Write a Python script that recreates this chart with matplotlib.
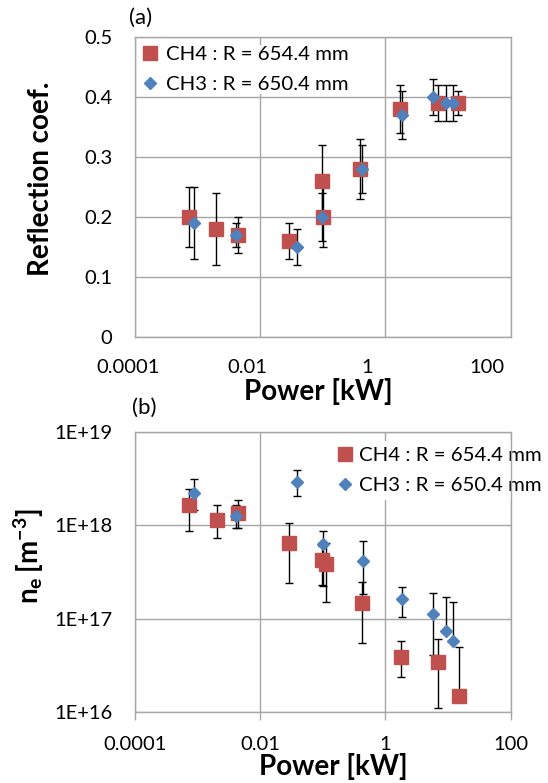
import numpy as np
import matplotlib
matplotlib.use("Agg")
import matplotlib.pyplot as plt
from matplotlib.transforms import ScaledTranslation

plt.rcParams['font.family'] = ['Lato', 'DejaVu Sans']
plt.rcParams['mathtext.fontset'] = 'custom'
plt.rcParams['mathtext.rm'] = 'Lato'
plt.rcParams['mathtext.bf'] = 'Lato:bold'

# ---------------- data ----------------
label_ch4 = "CH4 : R = 654.4 mm"
label_ch3 = "CH3 : R = 650.4 mm"

# (a) reflection coefficient
pow_ch4_a = [7.4e-4, 2.0e-3, 4.4e-3, 0.0286, 0.0975, 0.0995, 0.40, 1.71, 6.9, 14.6]
refl_ch4 = [0.20, 0.18, 0.17, 0.16, 0.26, 0.20, 0.28, 0.38, 0.39, 0.39]
refl_ch4_err = [0.05, 0.06, 0.03, 0.03, 0.06, 0.05, 0.05, 0.04, 0.03, 0.02]

pow_ch3_a = [8.95e-4, 4.19e-3, 0.0385, 0.0985, 0.425, 1.87, 5.83, 9.18, 11.9]
refl_ch3 = [0.19, 0.17, 0.15, 0.20, 0.28, 0.37, 0.40, 0.39, 0.39]
refl_ch3_err = [0.06, 0.02, 0.03, 0.04, 0.04, 0.04, 0.03, 0.03, 0.03]

# (b) electron density
pow_ch4_b = [7.4e-4, 2.08e-3, 4.51e-3, 0.0294, 0.096, 0.113, 0.419, 1.78, 7.0, 15.0]
ne_ch4 = [1.65e18, 1.14e18, 1.37e18, 6.4e17, 4.3e17, 3.9e17, 1.48e17, 3.9e16, 3.46e16, 1.5e16]
ne_ch4_low = [8.7e17, 7.3e17, 9.4e17, 2.4e17, 2.3e17, 1.5e17, 5.5e16, 2.35e16, 1.1e16, 1.5e16]
ne_ch4_high = [2.43e18, 1.65e18, 1.86e18, 1.07e18, 6.0e17, 6.5e17, 2.49e17, 5.8e16, 6.0e16, 5.0e16]

pow_ch3_b = [8.95e-4, 4.19e-3, 0.0385, 0.101, 0.435, 1.87, 5.83, 9.18, 12.2]
ne_ch3 = [2.24e18, 1.27e18, 2.94e18, 6.3e17, 4.15e17, 1.61e17, 1.12e17, 7.3e16, 5.7e16]
ne_ch3_low = [1.46e18, 9.4e17, 2.05e18, 2.24e17, 1.82e17, 1.05e17, 4.1e16, 7.3e16, 5.7e16]
ne_ch3_high = [3.13e18, 1.65e18, 3.88e18, 8.7e17, 6.8e17, 2.2e17, 1.9e17, 1.72e17, 1.52e17]

x_ticks = [1e-4, 1e-2, 1, 100]
x_ticklabels = ["0.0001", "0.01", "1", "100"]
y_ticks_a = [0, 0.1, 0.2, 0.3, 0.4, 0.5]
y_ticklabels_a = ["0", "0.1", "0.2", "0.3", "0.4", "0.5"]
y_ticks_b = [1e16, 1e17, 1e18, 1e19]
y_ticklabels_b = ["1E+16", "1E+17", "1E+18", "1E+19"]

# ---------------- style ----------------
RED = "#C0504D"
BLUE = "#4F81BD"
GRID = "#A6A6A6"
W, H = 548, 783
fig = plt.figure(figsize=(W / 100, H / 100), dpi=100)

def fx(px):
    return px / W

def fy(py):
    return 1 - py / H

ax1 = fig.add_axes([fx(134.7), fy(336.7), fx(510.7) - fx(134.7), fy(36.7) - fy(336.7)])
ax2 = fig.add_axes([fx(134.7), fy(712), fx(510.7) - fx(134.7), fy(432) - fy(712)])

tick_fs = 14.5
leg_fs = 14.7
sq_ms = 10
dm_ms = 6.5
err_kw = dict(ecolor="black", elinewidth=1.0, capsize=3.2, capthick=1.0, linestyle="none")

for ax in (ax1, ax2):
    ax.set_xscale("log")
    ax.set_xlim(1e-4, 100)
    ax.set_xticks(x_ticks)
    ax.set_xticklabels(x_ticklabels)
    ax.xaxis.set_minor_locator(matplotlib.ticker.NullLocator())
    ax.grid(True, which="major", color=GRID, linewidth=1.0)
    ax.set_axisbelow(True)
    for s in ax.spines.values():
        s.set_color(GRID)
        s.set_linewidth(1.0)
    ax.tick_params(axis="both", labelsize=tick_fs, colors="black")
    ax.tick_params(axis="y", length=0, pad=16)

# ---- panel (a)
ax1.set_ylim(0, 0.5)
ax1.set_yticks(y_ticks_a)
ax1.set_yticklabels(y_ticklabels_a)
ax1.tick_params(axis="x", length=0, pad=16)

ax1.errorbar(pow_ch4_a, refl_ch4, yerr=refl_ch4_err, **err_kw, zorder=3)
ax1.errorbar(pow_ch3_a, refl_ch3, yerr=refl_ch3_err, **err_kw, zorder=3)
h4a, = ax1.plot(pow_ch4_a, refl_ch4, "s", color=RED, ms=sq_ms, mec=RED, label=label_ch4, zorder=4)
h3a, = ax1.plot(pow_ch3_a, refl_ch3, "D", color=BLUE, ms=dm_ms, mec=BLUE, label=label_ch3, zorder=5)

ax1.set_xlabel("Power [kW]", fontsize=20, fontweight="bold")
ax1.xaxis.set_label_coords((318 - 134.7) / 376, (336.7 - 378) / 300)
ax1.set_ylabel("Reflection coef.", fontsize=20, fontweight="bold")
ax1.yaxis.set_label_coords((54 - 134.7) / 376, (336.7 - 179) / 300)

leg1 = ax1.legend(handles=[h4a, h3a], loc="upper left", bbox_to_anchor=(fx(140.7), fy(45)),
                  bbox_transform=fig.transFigure, fontsize=leg_fs, frameon=True, fancybox=False,
                  edgecolor="none", facecolor="white", framealpha=1, borderaxespad=0,
                  borderpad=0.05, handlelength=0.8, handletextpad=0.38, labelspacing=0.6)
leg1.set_zorder(2)

# shift top-panel x tick labels as in the reference
offsets_a = [-7, -13, -18, -24]
for tick, dx in zip(ax1.xaxis.get_major_ticks(len(x_ticks)), offsets_a):
    tick.label1.set_transform(tick.label1.get_transform() + ScaledTranslation(dx / 100, 0, fig.dpi_scale_trans))

# ---- panel (b)
ax2.set_yscale("log")
ax2.set_ylim(1e16, 1e19)
ax2.set_yticks(y_ticks_b)
ax2.set_yticklabels(y_ticklabels_b)
ax2.yaxis.set_minor_locator(matplotlib.ticker.NullLocator())
ax2.tick_params(axis="x", length=6, width=1.0, color=GRID, direction="out", pad=11)

n4 = np.array(ne_ch4)
n3 = np.array(ne_ch3)
ax2.errorbar(pow_ch4_b, n4, yerr=[n4 - np.array(ne_ch4_low), np.array(ne_ch4_high) - n4], **err_kw, zorder=3)
ax2.errorbar(pow_ch3_b, n3, yerr=[n3 - np.array(ne_ch3_low), np.array(ne_ch3_high) - n3], **err_kw, zorder=3)
h4b, = ax2.plot(pow_ch4_b, n4, "s", color=RED, ms=sq_ms, mec=RED, label=label_ch4, zorder=4)
h3b, = ax2.plot(pow_ch3_b, n3, "D", color=BLUE, ms=dm_ms, mec=BLUE, label=label_ch3, zorder=5)

ax2.set_xlabel("Power [kW]", fontsize=20, fontweight="bold")
ax2.xaxis.set_label_coords((333 - 134.7) / 376, (712 - 753) / 280)
ax2.set_ylabel(r"$\mathbf{n_e\,[m^{-3}]}$", fontsize=20)
ax2.yaxis.set_label_coords((46 - 134.7) / 376, (712 - 556.7) / 280)

leg2 = ax2.legend(handles=[h4b, h3b], loc="upper left", bbox_to_anchor=(fx(331), fy(441)),
                  bbox_transform=fig.transFigure, fontsize=leg_fs, frameon=True, fancybox=False,
                  edgecolor="none", facecolor="white", framealpha=1, borderaxespad=0,
                  borderpad=0.3, handlelength=0.8, handletextpad=0.25, labelspacing=0.6)
leg2.set_zorder(2)

fig.text(fx(129), fy(8), "(a)", fontsize=16, va="top", ha="left")
fig.text(fx(132), fy(398), "(b)", fontsize=16, va="top", ha="left")

fig.savefig("out.png", dpi=100)
